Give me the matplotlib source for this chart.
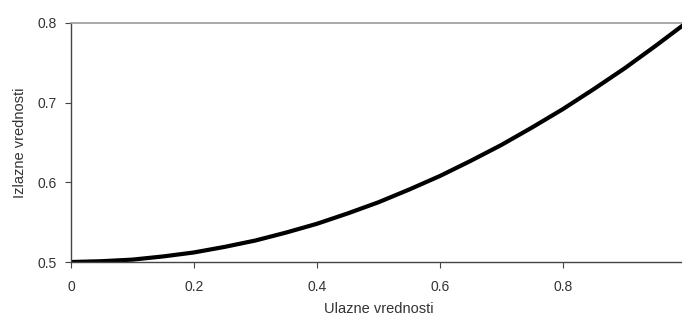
import matplotlib.pyplot as plt

# values
x_vals = [0.0, 0.05, 0.1, 0.15, 0.2, 0.25, 0.3, 0.35, 0.4, 0.45, 0.5,
          0.55, 0.6, 0.65, 0.7, 0.75, 0.8, 0.85, 0.9, 0.95, 1.0]
y_vals = [0.5, 0.501, 0.503, 0.507, 0.512, 0.519, 0.527, 0.537, 0.548, 0.561, 0.575,
          0.591, 0.608, 0.627, 0.647, 0.669, 0.692, 0.717, 0.743, 0.771, 0.8]
x_ticks = [0, 0.2, 0.4, 0.6, 0.8]
x_tick_labels = ['0', '0.2', '0.4', '0.6', '0.8']
y_ticks = [0.5, 0.6, 0.7, 0.8]
y_tick_labels = ['0.5', '0.6', '0.7', '0.8']

plt.rcParams['font.family'] = ['Liberation Sans', 'DejaVu Sans']

fig = plt.figure(figsize=(6.82, 3.18), dpi=100)
ax = fig.add_axes([71 / 682, 56 / 318, 615 / 682, 239 / 318])

ax.plot(x_vals, y_vals, color='black', lw=3.0, solid_capstyle='round',
        solid_joinstyle='round')

ax.set_xlim(0, 1.0)
ax.set_ylim(0.5, 0.8)
ax.set_xticks(x_ticks)
ax.set_xticklabels(x_tick_labels)
ax.set_yticks(y_ticks)
ax.set_yticklabels(y_tick_labels)

for side in ['left', 'bottom']:
    ax.spines[side].set_color('#444444')
    ax.spines[side].set_linewidth(1.0)
ax.spines['top'].set_color('#999999')
ax.spines['top'].set_linewidth(1.2)
ax.spines['right'].set_visible(False)

ax.tick_params(axis='both', colors='#444444', labelcolor='#333333',
               labelsize=10, length=4, width=0.8)
ax.tick_params(axis='x', pad=9)
ax.tick_params(axis='y', pad=6)

ax.set_xlabel('Ulazne vrednosti', fontsize=10.5, color='#333333', labelpad=6)
ax.set_ylabel('Izlazne vrednosti', fontsize=10.5, color='#333333', labelpad=8)

fig.savefig('out.png', dpi=100)
